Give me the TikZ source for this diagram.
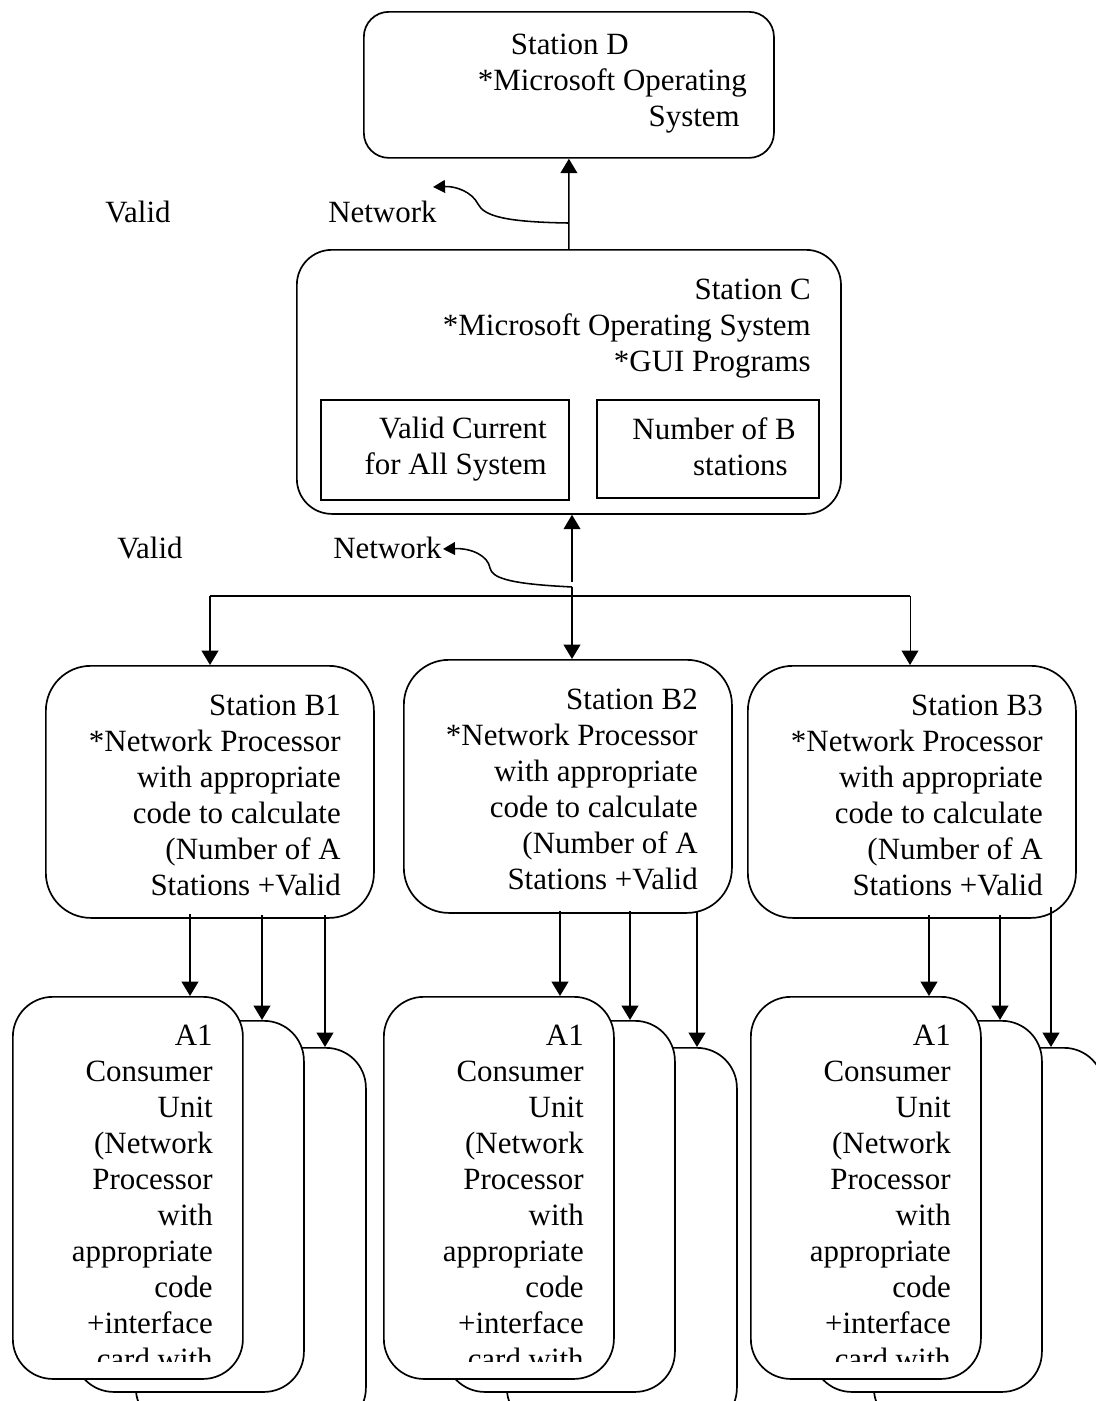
\documentclass[tikz,border=0pt]{standalone}
\usepackage{fontspec}
\setmainfont{Liberation Serif}
\usetikzlibrary{arrows.meta, calc}
\tikzstyle{station} = [rectangle, draw=black, line width=1.2pt, fill=white, inner sep=0pt, anchor=north west]
\tikzstyle{field} = [rectangle, draw=black, line width=1.2pt, fill=white, inner sep=0pt, anchor=north west]
\tikzstyle{unit} = [rectangle, rounded corners=1cm, draw=black, line width=1.2pt, fill=white, inner sep=0pt, anchor=north west, minimum width=5.75cm]
\tikzstyle{txt} = [font=\fontsize{22pt}{25.6pt}\selectfont, align=right, inner sep=0pt, anchor=north east]
\tikzstyle{note} = [font=\fontsize{22pt}{25.6pt}\selectfont, inner sep=0pt, anchor=base west]
\tikzstyle{arrow} = [line width=1.1pt, ->, >={Triangle[length=0.36cm, width=0.42cm]}]
\tikzstyle{netarrow} = [line width=1.1pt, ->, >={Triangle[length=0.3cm, width=0.32cm]}]

\begin{document}
\begin{tikzpicture}[x=0.025cm, y=-0.025cm]
	\useasboundingbox (0,0) rectangle (1096,1401);
	\clip (0,0) rectangle (1096,1401);
	% top stations
	\node (D) [station, rounded corners=0.625cm, minimum width=10.25cm, minimum height=3.65cm] at (363,11) {};
	\node (Dtxt) [txt] at (747,34) {Station D\rule{2.95cm}{0pt}\\{}*Microsoft Operating\\System\rule{0.175cm}{0pt}};
	\node (C) [station, rounded corners=0.875cm, minimum width=13.6cm, minimum height=6.6cm] at (296,249) {};
	\node (Ctxt) [txt] at (811,279) {Station C\\{}*Microsoft Operating System\\{}*GUI Programs};
	\node (current) [field, minimum width=6.2cm, minimum height=2.5cm] at (320,399) {};
	\node (currenttxt) [txt] at (547,417) {Valid Current\\for All System};
	\node (count) [field, minimum width=5.55cm, minimum height=2.45cm] at (596,399) {};
	\node (counttxt) [txt] at (796,417) {Number of B\\stations\rule{0.2cm}{0pt}};
	% labels
	\node (valid1) [note] at (105,222) {Valid};
	\node (net1) [note] at (328,222) {Network};
	\node (valid2) [note] at (117,558) {Valid};
	\node (net2) [note] at (333,558) {Network};
	% B stations
	\node (B1) [station, rounded corners=1.125cm, minimum width=8.2cm, minimum height=6.3cm] at (45,665) {};
	\node (B1txt) [txt] at (341,695) {Station B1\\{}*Network Processor\\with appropriate\\code to calculate\\(Number of A\\Stations +Valid};
	\node (B2) [station, rounded corners=1.125cm, minimum width=8.2cm, minimum height=6.325cm] at (403,659) {};
	\node (B2txt) [txt] at (698,689) {Station B2\\{}*Network Processor\\with appropriate\\code to calculate\\(Number of A\\Stations +Valid};
	\node (B3) [station, rounded corners=1.125cm, minimum width=8.2cm, minimum height=6.3cm] at (747,665) {};
	\node (B3txt) [txt] at (1043,695) {Station B3\\{}*Network Processor\\with appropriate\\code to calculate\\(Number of A\\Stations +Valid};
	% A units under B1
	\node (A1c) [unit, minimum height=9.5cm] at (135,1047) {};
	\node (A1b) [unit, minimum height=9.275cm] at (73,1020) {};
	\node (A1a) [unit, minimum height=9.55cm] at (12,996) {};
	\begin{scope}
		\clip (A1a.north west) rectangle ($(A1a.south east)+(0,-18)$);
		\node (A1txt) [txt] at (213,1025) {A1\\Consumer\\Unit\\(Network\\Processor\\with\\appropriate\\code\\+interface\\card with};
	\end{scope}
	% A units under B2
	\node (A2c) [unit, minimum height=9.5cm] at (506,1047) {};
	\node (A2b) [unit, minimum height=9.275cm] at (444,1020) {};
	\node (A2a) [unit, minimum height=9.55cm] at (383,996) {};
	\begin{scope}
		\clip (A2a.north west) rectangle ($(A2a.south east)+(0,-18)$);
		\node (A2txt) [txt] at (584,1025) {A1\\Consumer\\Unit\\(Network\\Processor\\with\\appropriate\\code\\+interface\\card with};
	\end{scope}
	% A units under B3
	\node (A3c) [unit, minimum height=9.5cm] at (873,1047) {};
	\node (A3b) [unit, minimum height=9.275cm] at (811,1020) {};
	\node (A3a) [unit, minimum height=9.55cm] at (750,996) {};
	\begin{scope}
		\clip (A3a.north west) rectangle ($(A3a.south east)+(0,-18)$);
		\node (A3txt) [txt] at (951,1025) {A1\\Consumer\\Unit\\(Network\\Processor\\with\\appropriate\\code\\+interface\\card with};
	\end{scope}
	% connections
	\draw [arrow] (C.north) -- (D.south);
	\coordinate (tap1) at (568,223);
	\coordinate (tip1) at (433,187);
	\draw [netarrow] (tap1) .. controls (505,222) and (484,216) .. (478,204) .. controls (472,192) and (456,186) .. (tip1);
	\coordinate (up) at (572,582);
	\coordinate (tap2) at (572,587);
	\coordinate (tip2) at (443,549);
	\draw [arrow] (up) -- (up |- C.south);
	\draw [arrow] (tap2) -- (tap2 |- B2.north);
	\draw [netarrow] (tap2) -- (555,586) .. controls (510,583) and (492,578) .. (490,568) .. controls (488,556) and (472,548) .. (tip2);
	\coordinate (busL) at (210,596);
	\coordinate (busR) at (910,596);
	\draw [line width=1.1pt] (busL) -- (busR);
	\draw [arrow] (busL) -- (busL |- B1.north);
	\draw [arrow, line width=0.7pt] (busR) -- (busR |- B3.north);
	\coordinate (b1a) at (190,914);
	\coordinate (b1b) at (262,915);
	\coordinate (b1c) at (325,915);
	\draw [arrow] (b1a) -- (b1a |- A1a.north);
	\draw [arrow] (b1b) -- (b1b |- A1b.north);
	\draw [arrow] (b1c) -- (b1c |- A1c.north);
	\coordinate (b2a) at (560,911);
	\coordinate (b2b) at (630,911);
	\coordinate (b2c) at (697,911);
	\draw [arrow] (b2a) -- (b2a |- A2a.north);
	\draw [arrow] (b2b) -- (b2b |- A2b.north);
	\draw [arrow] (b2c) -- (b2c |- A2c.north);
	\coordinate (b3a) at (929,915);
	\coordinate (b3b) at (1000,915);
	\coordinate (b3c) at (1051,907);
	\draw [arrow] (b3a) -- (b3a |- A3a.north);
	\draw [arrow] (b3b) -- (b3b |- A3b.north);
	\draw [arrow] (b3c) -- (b3c |- A3c.north);
\end{tikzpicture}
\end{document}
